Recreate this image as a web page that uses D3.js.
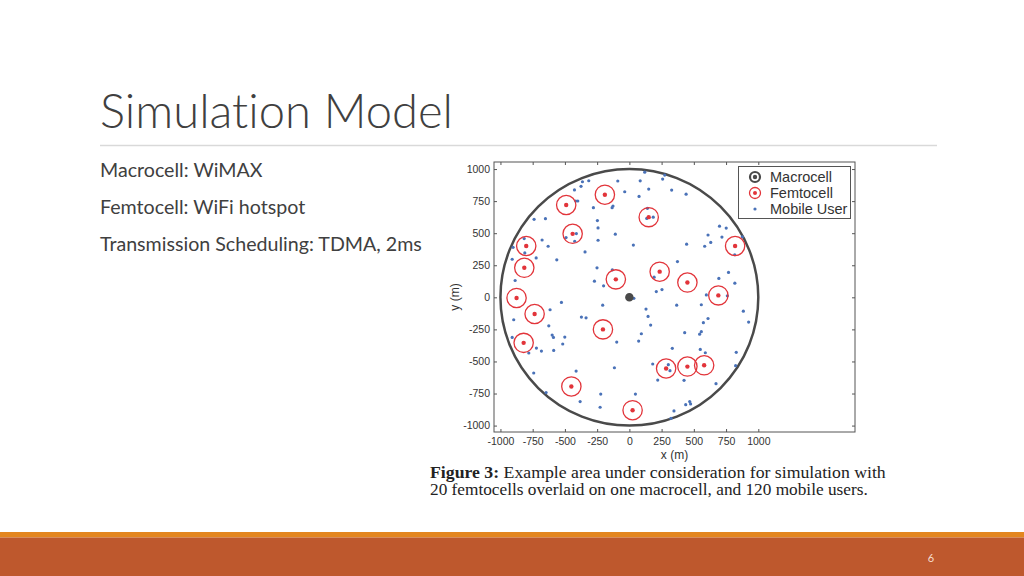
<!DOCTYPE html>
<html>
<head>
<meta charset="utf-8">
<script src="https://cdnjs.cloudflare.com/ajax/libs/d3/7.8.5/d3.min.js"></script>
<style>
	html, body { margin: 0; padding: 0; background: #fff; }
	svg { display: block; }
	text { font-variant-ligatures: none; font-feature-settings: "liga" 0; }
</style>
</head>
<body>
<div id="slide"></div>
<script>
// slide text
var titleText = 'Simulation Model';
var bullets = ['Macrocell: WiMAX', 'Femtocell: WiFi hotspot', 'Transmission Scheduling: TDMA, 2ms'];
var captionBold = 'Figure 3:';
var captionLines = [' Example area under consideration for simulation with', '20 femtocells overlaid on one macrocell, and 120 mobile users.'];
var pageNumber = '6';

// chart data (metres)
var macrocell = [[0, 0]];
var macroRadius = 1000;
var femtoRadius = 75;
var xTicks = [-1000, -750, -500, -250, 0, 250, 500, 750, 1000];
var yTicks = [-1000, -750, -500, -250, 0, 250, 500, 750, 1000];
var legendLabels = ['Macrocell', 'Femtocell', 'Mobile User'];

var femtocells = [
	[-190, 800], [-490, 720], [150, 625], [-440, 495], [-800, 400],
	[-815, 230], [-105, 140], [235, 200], [820, 400], [450, 115],
	[690, 15], [-875, -5], [-735, -130], [-205, -250], [-820, -355],
	[-450, -695], [25, -880], [285, -555], [450, -540], [580, -530]
];

var users = [
	// upper left
	[-364, 901], [-315, 909], [-375, 865], [-426, 837], [-90, 907], [-36, 823],
	[-416, 751], [-400, 751], [-279, 699], [-134, 699], [-127, 712], [-739, 608],
	[-651, 613], [-248, 598], [-243, 541], [-109, 492], [-491, 466], [-411, 497],
	[-424, 437], [-243, 445], [-677, 447], [-816, 458], [-630, 398], [-902, 390],
	[-811, 346], [-723, 307], [-909, 297], [-563, 292], [-344, 354], [-251, 230],
	[-132, 214], [-271, 126], [-200, 90], [-886, 131],
	// upper right
	[119, 976], [84, 908], [258, 922], [274, 953], [150, 844], [328, 836],
	[75, 787], [440, 804], [140, 694], [135, 615], [185, 625], [31, 407],
	[444, 414], [610, 486], [699, 555], [751, 540], [718, 470], [584, 398],
	[631, 428], [876, 472], [817, 332], [373, 279], [192, 157], [769, 194],
	[694, 147], [818, 110], [209, 45], [253, 60], [597, 19], [760, 12],
	// lower left
	[-527, -40], [-207, -61], [-615, -97], [-897, -175], [-372, -154], [-336, -160],
	[-625, -222], [-909, -313], [-599, -294], [-589, -313], [-501, -310], [-517, -364],
	[-98, -349], [-721, -396], [-682, -419], [-780, -434], [-587, -414], [-116, -549],
	[-413, -575], [-742, -590], [-646, -743], [-222, -754], [-382, -813], [-227, -857],
	// lower right
	[35, -8], [367, -61], [558, -58], [129, -92], [145, -149], [165, -216],
	[884, -108], [925, -193], [610, -165], [574, -198], [93, -284], [429, -276],
	[558, -268], [545, -287], [72, -341], [333, -398], [550, -406], [589, -432],
	[829, -429], [824, -533], [181, -520], [302, -525], [315, -572], [220, -645],
	[424, -647], [672, -673], [47, -754], [437, -837], [468, -813], [475, -831],
	[346, -886], [323, -943]
];

var W = 1024, H = 576;
var plot = { left: 494, right: 855, top: 162, bottom: 432 };
var colors = {
	text: '#404040',
	rule: '#d9d9d9',
	axis: '#555555',
	macro: '#4a4a4a',
	femto: '#e2343a',
	user: '#4a72b8',
	band: '#e3861f',
	footer: '#be582d'
};

var svg = d3.select('#slide').append('svg')
	.attr('width', W)
	.attr('height', H);

// shrink or grow a text so it spans the given width
function fitWidth(sel, width) {
	var w = sel.node().getComputedTextLength();
	var fs = parseFloat(sel.attr('font-size'));
	sel.attr('font-size', fs * width / w);
}

// title, rule and bullets
var title = svg.append('text')
	.attr('x', 100)
	.attr('y', 128)
	.attr('font-family', 'Lato, "Open Sans", sans-serif')
	.attr('font-weight', 300)
	.attr('font-size', 46)
	.attr('fill', colors.text)
	.text(titleText);
fitWidth(title, 353);

svg.append('line')
	.attr('x1', 100).attr('x2', 937)
	.attr('y1', 145.5).attr('y2', 145.5)
	.attr('stroke', colors.rule)
	.attr('stroke-width', 1.5);

var bulletY = [177, 214, 251];
var bulletText = svg.selectAll('.bullet')
	.data(bullets)
	.enter().append('text')
	.attr('class', 'bullet')
	.attr('x', 100)
	.attr('y', function(d, i) { return bulletY[i]; })
	.attr('font-family', 'Lato, "Open Sans", sans-serif')
	.attr('font-size', 18)
	.attr('fill', colors.text)
	.text(function(d) { return d; });

// size all bullets from the longest one
var longest = bulletText.filter(function(d, i) { return i === 2; });
fitWidth(longest, 322);
bulletText.attr('font-size', longest.attr('font-size'));

// scales
var x = d3.scaleLinear()
	.domain([-1050, 1750])
	.range([plot.left, plot.right]);

var y = d3.scaleLinear()
	.domain([-1050, 1055])
	.range([plot.bottom, plot.top]);

var rx = function(r) { return x(r) - x(0); };
var ry = function(r) { return y(0) - y(r); };

var chart = svg.append('g').attr('class', 'chart');

chart.append('rect')
	.attr('x', plot.left)
	.attr('y', plot.top)
	.attr('width', plot.right - plot.left)
	.attr('height', plot.bottom - plot.top)
	.attr('fill', '#fff');

// axes, MATLAB style box with inward ticks on all sides
var tickFont = '"Liberation Sans", Arial, sans-serif';
var plain = function(d) { return String(d); };

var xAxis = d3.axisBottom(x).tickValues(xTicks).tickSize(-3).tickPadding(6).tickFormat(plain);
var yAxis = d3.axisLeft(y).tickValues(yTicks).tickSize(-3).tickPadding(4).tickFormat(plain);

chart.append('g')
	.attr('class', 'x axis')
	.attr('transform', 'translate(0,' + plot.bottom + ')')
	.call(xAxis);

chart.append('g')
	.attr('class', 'y axis')
	.attr('transform', 'translate(' + plot.left + ',0)')
	.call(yAxis);

chart.append('g')
	.attr('transform', 'translate(0,' + plot.top + ')')
	.call(d3.axisTop(x).tickValues(xTicks).tickSize(-3).tickFormat(''));

chart.append('g')
	.attr('transform', 'translate(' + plot.right + ',0)')
	.call(d3.axisRight(y).tickValues(yTicks).tickSize(-3).tickFormat(''));

chart.selectAll('.domain').remove();
chart.selectAll('.tick line').attr('stroke', colors.axis);
chart.selectAll('.tick text')
	.attr('font-family', tickFont)
	.attr('font-size', 10.5)
	.attr('fill', '#333');

chart.append('rect')
	.attr('x', plot.left)
	.attr('y', plot.top)
	.attr('width', plot.right - plot.left)
	.attr('height', plot.bottom - plot.top)
	.attr('fill', 'none')
	.attr('stroke', colors.axis)
	.attr('stroke-width', 1);

chart.append('text')
	.attr('x', (plot.left + plot.right) / 2)
	.attr('y', 459)
	.attr('text-anchor', 'middle')
	.attr('font-family', tickFont)
	.attr('font-size', 12)
	.attr('fill', '#333')
	.text('x (m)');

chart.append('text')
	.attr('transform', 'translate(459,' + ((plot.top + plot.bottom) / 2) + ') rotate(-90)')
	.attr('text-anchor', 'middle')
	.attr('font-family', tickFont)
	.attr('font-size', 12)
	.attr('fill', '#333')
	.text('y (m)');

// macrocell coverage
chart.append('ellipse')
	.attr('cx', x(0))
	.attr('cy', y(0))
	.attr('rx', rx(macroRadius))
	.attr('ry', ry(macroRadius))
	.attr('fill', 'none')
	.attr('stroke', colors.macro)
	.attr('stroke-width', 2.5);

// mobile users
chart.selectAll('.user')
	.data(users)
	.enter().append('circle')
	.attr('class', 'user')
	.attr('cx', function(d) { return x(d[0]); })
	.attr('cy', function(d) { return y(d[1]); })
	.attr('r', 1.6)
	.attr('fill', colors.user);

// femtocells
var femto = chart.selectAll('.femto')
	.data(femtocells)
	.enter().append('g')
	.attr('class', 'femto');

femto.append('ellipse')
	.attr('cx', function(d) { return x(d[0]); })
	.attr('cy', function(d) { return y(d[1]); })
	.attr('rx', rx(femtoRadius))
	.attr('ry', ry(femtoRadius))
	.attr('fill', 'none')
	.attr('stroke', colors.femto)
	.attr('stroke-width', 1.3);

femto.append('circle')
	.attr('cx', function(d) { return x(d[0]); })
	.attr('cy', function(d) { return y(d[1]); })
	.attr('r', 2.2)
	.attr('fill', colors.femto);

// macrocell base station
chart.selectAll('.macro')
	.data(macrocell)
	.enter().append('circle')
	.attr('class', 'macro')
	.attr('cx', function(d) { return x(d[0]); })
	.attr('cy', function(d) { return y(d[1]); })
	.attr('r', 3.5)
	.attr('fill', colors.macro)
	.attr('stroke', colors.macro)
	.attr('stroke-width', 1.5);

// legend
var legend = chart.append('g').attr('class', 'legend');

legend.append('rect')
	.attr('x', 738.5)
	.attr('y', 166.5)
	.attr('width', 112)
	.attr('height', 52)
	.attr('fill', '#fff')
	.attr('stroke', colors.axis)
	.attr('stroke-width', 1);

var legendY = [177, 193, 209];
var items = legend.selectAll('.item')
	.data(legendLabels)
	.enter().append('g')
	.attr('class', 'item')
	.attr('transform', function(d, i) { return 'translate(755,' + legendY[i] + ')'; });

items.append('text')
	.attr('x', 15)
	.attr('y', 5)
	.attr('font-family', tickFont)
	.attr('font-size', 14.5)
	.attr('fill', '#333')
	.text(function(d) { return d; });

var macroKey = items.filter(function(d, i) { return i === 0; });
macroKey.append('circle').attr('r', 5).attr('fill', 'none').attr('stroke', colors.macro).attr('stroke-width', 2.2);
macroKey.append('circle').attr('r', 2.2).attr('fill', colors.macro);

var femtoKey = items.filter(function(d, i) { return i === 1; });
femtoKey.append('circle').attr('r', 5.5).attr('fill', 'none').attr('stroke', colors.femto).attr('stroke-width', 1.3);
femtoKey.append('circle').attr('r', 2).attr('fill', colors.femto);

items.filter(function(d, i) { return i === 2; })
	.append('circle').attr('r', 1.6).attr('fill', colors.user);

// caption under the figure
var captionFont = '"Liberation Serif", "DejaVu Serif", serif';
var cap1 = svg.append('text')
	.attr('x', 430)
	.attr('y', 477.5)
	.attr('font-family', captionFont)
	.attr('font-size', 15)
	.attr('fill', '#222');
cap1.append('tspan').attr('font-weight', 'bold').text(captionBold);
cap1.append('tspan').text(captionLines[0]);
fitWidth(cap1, 456);

var cap2 = svg.append('text')
	.attr('x', 430)
	.attr('y', 494.5)
	.attr('font-family', captionFont)
	.attr('font-size', 15)
	.attr('fill', '#222')
	.text(captionLines[1]);
fitWidth(cap2, 438);

// footer bands
svg.append('rect')
	.attr('x', 0).attr('y', 532)
	.attr('width', W).attr('height', 5.5)
	.attr('fill', colors.band);

svg.append('rect')
	.attr('x', 0).attr('y', 537.5)
	.attr('width', W).attr('height', H - 537.5)
	.attr('fill', colors.footer);

svg.append('text')
	.attr('x', 931)
	.attr('y', 562)
	.attr('text-anchor', 'middle')
	.attr('font-family', 'Lato, sans-serif')
	.attr('font-size', 11)
	.attr('fill', '#f6dccd')
	.text(pageNumber);
</script>
</body>
</html>
